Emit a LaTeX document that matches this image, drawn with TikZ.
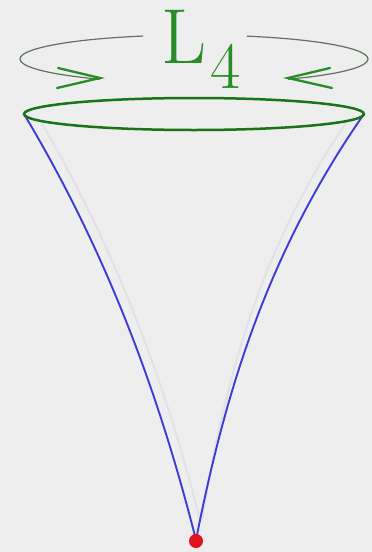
\documentclass[tikz,border=0pt]{standalone}
\usepackage{tikz}
\definecolor{bg}{RGB}{238,238,238}
\definecolor{rimgreen}{RGB}{25,115,25}
\definecolor{txtgreen}{RGB}{40,140,40}
\definecolor{arcgray}{RGB}{95,115,95}
\definecolor{coneblue}{RGB}{60,60,215}
\definecolor{dotred}{RGB}{225,20,30}
\definecolor{ghost}{RGB}{226,226,230}
\tikzset{
  rim/.style={draw=rimgreen, line width=2.5pt},
  spin/.style={draw=arcgray, line width=1.2pt},
  chev/.style={draw=txtgreen, line width=2.3pt, line cap=round, line join=miter},
  side/.style={draw=coneblue, line width=1.9pt},
  ghostside/.style={draw=ghost, line width=2pt},
  lbl/.style={text=txtgreen, inner sep=0pt}
}
\begin{document}
\begin{tikzpicture}[x=1pt,y=-1pt]
\fill[bg] (0,0) rectangle (372,552);
\useasboundingbox (0,0) rectangle (372,552);
% ghost sides
\coordinate (apex) at (196,540);
\coordinate (lt) at (24,114);
\coordinate (rt) at (364,114);
\draw[ghostside] (40,120) .. controls (122,260) and (170,400) .. (200,520);
\draw[ghostside] (348,120) .. controls (252,260) and (222,400) .. (202,520);
% cone sides
\draw[side] (lt) .. controls (109,256) and (160,398) .. (apex);
\draw[side] (rt) .. controls (265,256) and (224,398) .. (apex);
% rim
\draw[rim] (194,114) ellipse (170 and 16);
% rotation arcs
\draw[spin] (194,59) ++(253:174 and 24) arc[start angle=253, end angle=122.7, x radius=174, y radius=24];
\draw[spin] (194,59) ++(287.7:174 and 24) arc[start angle=287.7, end angle=417.3, x radius=174, y radius=24];
% chevrons
\coordinate (ctl) at (100,78);
\coordinate (ctr) at (288,78);
\draw[chev] (58,68) -- (ctl) -- (57,88);
\draw[chev] (330,68) -- (ctr) -- (332,88);
% label
\node[lbl, anchor=base west, font=\fontsize{78}{78}\selectfont] (L) at (161,63) {L};
\node[lbl, anchor=base west, font=\fontsize{66}{66}\selectfont] (four) at (210,88) {4};
% apex dot
\fill[dotred] (196,541) circle (7);
\node[inner sep=0pt] (dot) at (196,541) {};
\end{tikzpicture}
\end{document}
